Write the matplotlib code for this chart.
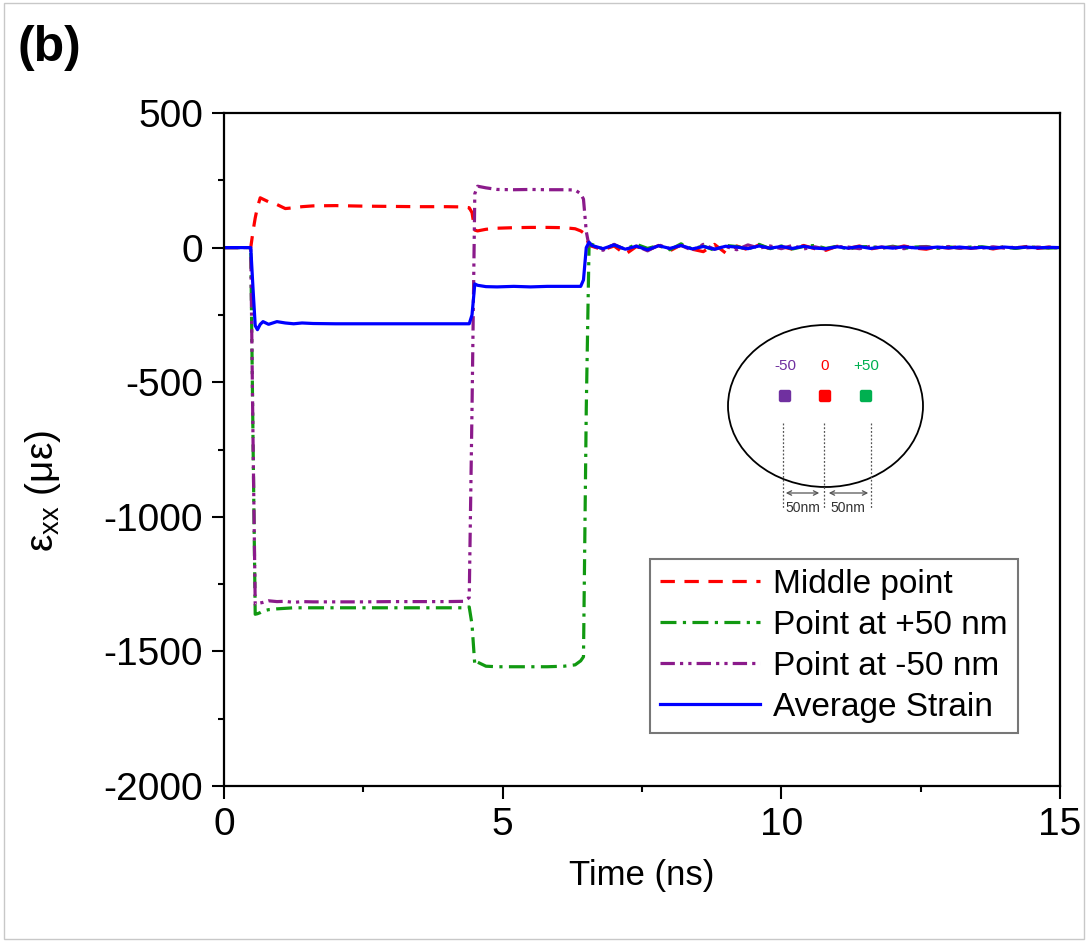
import matplotlib
matplotlib.use("Agg")
import matplotlib.pyplot as plt
from matplotlib.patches import Ellipse, Rectangle, FancyBboxPatch

plt.rcParams['font.family'] = ['Liberation Sans', 'DejaVu Sans']
plt.rcParams['mathtext.fontset'] = 'custom'
plt.rcParams['mathtext.rm'] = 'Liberation Sans'
plt.rcParams['axes.unicode_minus'] = False

# time axis (ns): step region, then the ringing tail
t_step = [0.0, 0.48, 0.52, 0.56, 0.6, 0.65, 0.7, 0.8, 0.95, 1.1,
          1.25, 1.4, 1.6, 2.0, 2.5, 3.0, 3.5, 4.0, 4.3, 4.4,
          4.45, 4.5, 4.55, 4.7, 4.9, 5.2, 5.5, 5.8, 6.1, 6.3,
          6.4, 6.45, 6.5, 6.55]
t_tail = [6.6, 6.8, 7.0, 7.2, 7.4, 7.6, 7.8, 8.0, 8.2, 8.4,
          8.6, 8.8, 9.0, 9.2, 9.4, 9.6, 9.8, 10.0, 10.2, 10.4,
          10.6, 10.8, 11.0, 11.2, 11.4, 11.6, 11.8, 12.0, 12.2, 12.4,
          12.6, 12.8, 13.0, 13.2, 13.4, 13.6, 13.8, 14.0, 14.2, 14.4,
          14.6, 14.8, 15.0]
time = t_step + t_tail

# strain (micro-strain)
middle = [0, 0, 60, 110, 150, 185, 180, 170, 160, 145,
          148, 152, 155, 156, 154, 153, 152, 152, 151, 148,
          130, 65, 62, 68, 72, 74, 75, 75, 74, 70,
          62, 55, 40, 10] + \
         [5, -8, 6, -25, 4, -10, 8, -12, 10, -6,
          -15, 12, -20, 6, -8, 10, -5, 4, -6, 8,
          -4, -10, 5, -3, 6, -5, 2, -4, 6, -2,
          -6, 3, -2, 4, -3, 2, -5, 3, -2, 4,
          -3, 2, 0]
plus50 = [0, 0, -700, -1362, -1360, -1356, -1350, -1345, -1342, -1340,
          -1338, -1338, -1338, -1338, -1338, -1338, -1338, -1338, -1338, -1335,
          -1400, -1550, -1540, -1555, -1557, -1557, -1557, -1557, -1555, -1550,
          -1535, -1520, -600, 10] + \
         [12, -5, 10, -6, 12, -3, 8, -8, 14, -5,
          6, -10, 8, 4, -6, 12, -4, 6, -5, 4,
          8, -3, 5, -6, 3, 4, -2, 5, -3, 2,
          4, -3, 3, -2, 2, 3, -2, 2, -3, 2,
          1, -2, 0]
minus50 = [0, 0, -700, -1325, -1322, -1320, -1318, -1312, -1315, -1314,
           -1318, -1315, -1316, -1316, -1316, -1315, -1315, -1315, -1314, -1300,
           -600, 200, 228, 222, 216, 215, 216, 215, 215, 214,
           200, 180, 60, 5] + \
          [8, -10, 12, -8, 6, -12, 10, -4, 8, -10,
           12, -6, 4, -8, 10, -2, 6, -4, 8, -5,
           3, -6, 4, 2, -4, 5, -2, 3, -4, 2,
           3, -2, 4, -3, 2, -2, 3, -2, 2, -1,
           2, -1, 0]
average = [0, 0, -150, -290, -305, -285, -275, -285, -275, -280,
           -283, -280, -282, -283, -283, -283, -283, -283, -283, -283,
           -250, -135, -140, -145, -146, -144, -146, -144, -144, -144,
           -144, -120, 0, 20] + \
          [8, -4, 10, -6, 5, -8, 7, -3, 8, -5,
           4, -6, 5, 2, -4, 6, -2, 4, -3, 5,
           -2, -4, 3, -2, 4, -3, 2, -2, 3, -1,
           -2, 2, -1, 2, -2, 1, -2, 2, -1, 2,
           -1, 1, 0]

W, H = 1088, 942
fig = plt.figure(figsize=(W / 100, H / 100), dpi=100)
fig.patches.append(Rectangle((4 / W, 3 / H), 1080 / W, 936 / H, transform=fig.transFigure,
                             fill=False, edgecolor='#c8c8c8', linewidth=1))

ax = fig.add_axes([224 / W, 1 - 786 / H, 836 / W, 673 / H])
lw = 2.3
ax.plot(time, middle, color='#ff0000', lw=lw, dashes=(4.5, 3), label='Middle point')
ax.plot(time, plus50, color='#119911', lw=lw, dashes=(5, 2, 1, 2), label='Point at +50 nm')
ax.plot(time, minus50, color='#8b1a8b', lw=lw, dashes=(4.5, 1.6, 1, 1.6, 1, 1.6), label='Point at -50 nm')
ax.plot(time, average, color='#0000ff', lw=lw, label='Average Strain')

ax.set_xlim(0, 15)
ax.set_ylim(-2000, 500)
ax.set_xticks([0, 5, 10, 15])
ax.set_xticks([2.5, 7.5, 12.5], minor=True)
ax.set_yticks([-2000, -1500, -1000, -500, 0, 500])
ax.set_yticks([-1750, -1250, -750, -250, 250], minor=True)
ax.tick_params(which='both', direction='out', top=False, right=False, width=1.5)
ax.tick_params(which='major', length=9, labelsize=28, pad=6)
ax.tick_params(which='minor', length=4)
for s in ax.spines.values():
    s.set_linewidth(1.6)

ax.set_xlabel('Time (ns)', fontsize=25, labelpad=12)
ax.set_ylabel('ε$_\\mathregular{xx}$ (με)', fontsize=28)
ax.yaxis.set_label_coords(-0.193, 0.438)

leg = ax.legend(loc='lower right', bbox_to_anchor=(1018 / W, 1 - 733 / H), bbox_transform=fig.transFigure,
                fontsize=24, frameon=True, fancybox=False, edgecolor='#555555',
                handlelength=3.0, handletextpad=0.4, labelspacing=0.3, borderpad=0.3, borderaxespad=0)
leg.get_frame().set_linewidth(1.5)

fig.text(18 / W, 1 - 48 / H, '(b)', fontsize=36, fontweight='bold', va='center', ha='left')

# inset sketch of the probe points
ins = fig.add_axes([715 / W, 1 - 525 / H, 230 / W, 210 / H])
ins.set_xlim(715, 945)
ins.set_ylim(525, 315)
ins.axis('off')
ins.add_patch(Ellipse((825.5, 406), 195, 162, fill=False, edgecolor='black', lw=1.3))
pts_x = [785, 825, 866]
pts_col = ['#7030a0', '#ff0000', '#00b050']
pts_lab = ['-50', '0', '+50']
for px, pc, pl in zip(pts_x, pts_col, pts_lab):
    ins.add_patch(FancyBboxPatch((px - 4, 392), 8, 8, boxstyle='round,pad=1.5', color=pc))
    ins.text(px, 366, pl, color=pc, fontsize=11, ha='center', va='center')
for lx in [783, 824, 871]:
    ins.plot([lx, lx], [423, 508], color='#555555', lw=0.9, ls=(0, (1.5, 1.5)))
for a, b in [(783, 822), (826, 871)]:
    ins.annotate('', xy=(a, 493), xytext=(b, 493),
                 arrowprops=dict(arrowstyle='<->', color='#555555', lw=0.9, mutation_scale=8))
ins.text(803, 508, '50nm', fontsize=10, ha='center', va='center', color='#333333')
ins.text(848, 508, '50nm', fontsize=10, ha='center', va='center', color='#333333')

fig.savefig('out.png', dpi=100)
